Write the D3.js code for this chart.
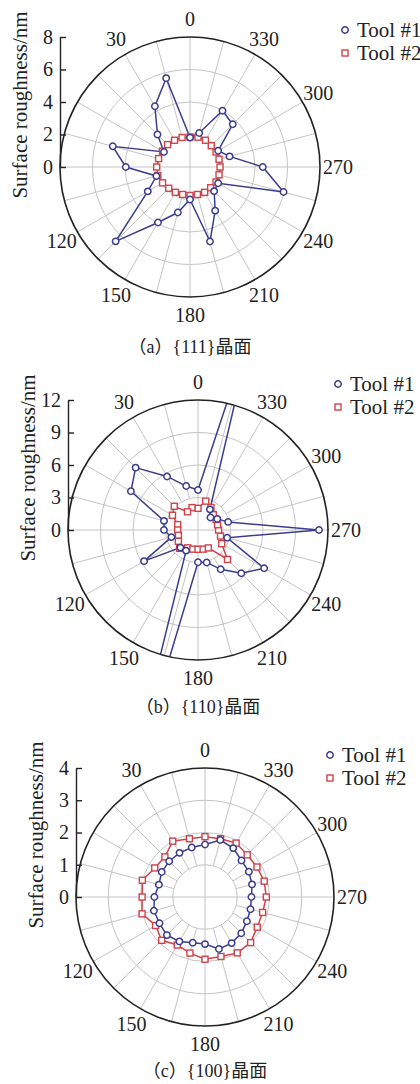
<!DOCTYPE html>
<html>
<head>
<meta charset="utf-8">
<script src="https://cdn.jsdelivr.net/npm/d3@7"></script>
<style>
  body { margin: 0; background: #fff; }
  svg { display: block; }
</style>
</head>
<body>
<svg id="chart" width="420" height="1084"></svg>
<script>
// Sampling angles (degrees, counter-clockwise from the top)
const angleDeg = [0, 15, 30, 45, 60, 75, 90, 105, 120, 135, 150, 165,
                  180, 195, 210, 225, 240, 255, 270, 285, 300, 315, 330, 345];

// Angular labels printed round each dial (60 and 90 sit under the y axis)
const angleTickValues = [0, 30, 120, 150, 180, 210, 240, 270, 300, 330];

// Radial tick values of each panel
const radialTicks111 = [0, 2, 4, 6, 8];
const radialTicks110 = [0, 3, 6, 9, 12];
const radialTicks100 = [0, 1, 2, 3, 4];

// Surface roughness (nm), {111} plane
const tool1_111 = [1.81, 5.66, 4.32, 2.83, 1.85, 4.92, 3.95, 2.14, 3.0, 6.47, 3.94, 2.9,
                   2.0, 4.75, 3.1, 2.1, 2.0, 5.96, 4.48, 2.52, 2.0, 3.72, 4.0, 2.17];
const tool2_111 = [1.85, 1.88, 1.9, 1.95, 1.95, 2.0, 2.05, 2.05, 1.95, 1.85, 1.8, 1.75,
                   1.75, 1.75, 1.8, 1.8, 1.85, 1.85, 1.85, 1.85, 1.85, 1.85, 1.9, 1.9];

// Surface roughness (nm), {110} plane
const tool1_110 = [3.69, 4.2, 5.71, 8.14, 7.15, 3.25, 3.14, 2.54, 5.75, 2.3, 2.2, 30.0,
                   2.98, 3.1, 4.19, 5.65, 7.05, 2.79, 11.17, 2.88, 2.05, 1.63, 2.2, 20.0];
const tool2_110 = [2.0, 2.14, 1.94, 3.1, 2.72, 1.94, 1.88, 1.87, 2.09, 2.4, 1.9, 1.83,
                   1.78, 1.83, 1.91, 3.85, 2.53, 2.15, 1.9, 1.87, 1.93, 2.0, 2.4, 2.76];

// Surface roughness (nm), {100} plane
const tool1_100 = [1.63, 1.59, 1.58, 1.57, 1.55, 1.48, 1.57, 1.64, 1.63, 1.67, 1.59, 1.47,
                   1.46, 1.67, 1.65, 1.59, 1.5, 1.46, 1.44, 1.51, 1.57, 1.6, 1.75, 1.83];
const tool2_100 = [1.87, 1.87, 2.0, 1.76, 1.8, 2.01, 1.95, 2.02, 1.77, 1.9, 1.72, 1.8,
                   1.93, 1.91, 2.0, 2.0, 1.87, 1.85, 1.9, 1.9, 1.86, 1.85, 1.93, 1.87];

const seriesNames = ["Tool #1", "Tool #2"];
const captions = ["（a）{111}晶面", "（b）{110}晶面", "（c）{100}晶面"];
const yTitle = "Surface roughness/nm";

const COLOR1 = "#3a3d8e";
const COLOR2 = "#d0434a";
const FONT = "'Liberation Serif', 'Times New Roman', 'Noto Sans CJK SC', serif";

const panels = [
  { cx: 190, cy: 167, R: 130, ticks: radialTicks111, s1: tool1_111, s2: tool2_111, caption: captions[0], capDy: 180, legX: 345, legY: 30 },
  { cx: 198, cy: 530, R: 130, ticks: radialTicks110, s1: tool1_110, s2: tool2_110, caption: captions[1], capDy: 177, legX: 338, legY: 384 },
  { cx: 205, cy: 897, R: 129, ticks: radialTicks100, s1: tool1_100, s2: tool2_100, caption: captions[2], capDy: 174, legX: 330, legY: 755 }
];

const svg = d3.select("#chart");
const rad = d => d * Math.PI / 180;

function drawCircleMarker(sel, color) {
  sel.append("circle").attr("r", 3.2)
    .attr("fill", "#fff").attr("stroke", color).attr("stroke-width", 1.5);
}
function drawSquareMarker(sel, color) {
  sel.append("rect").attr("x", -3).attr("y", -3).attr("width", 6).attr("height", 6)
    .attr("fill", "#fff").attr("stroke", color).attr("stroke-width", 1.4);
}

panels.forEach((p, i) => {
  const g = svg.append("g").attr("transform", `translate(${p.cx},${p.cy})`);
  const maxV = p.ticks[p.ticks.length - 1];
  const r = d3.scaleLinear().domain([0, maxV]).range([0, p.R]);

  // concentric grid rings
  g.append("g").selectAll("circle")
    .data(p.ticks.slice(1, -1))
    .join("circle")
    .attr("r", d => r(d))
    .attr("fill", "none").attr("stroke", "#c4c4c4").attr("stroke-width", 1);

  // spokes every 15 degrees; the four main axes reach the centre
  const spokes = d3.range(0, 360, 15);
  g.append("g").selectAll("line")
    .data(spokes)
    .join("line")
    .each(function (a) {
      const r0 = a % 90 === 0 ? 0 : r(p.ticks[1]);
      const [x0, y0] = d3.pointRadial(-rad(a), r0);
      const [x1, y1] = d3.pointRadial(-rad(a), p.R);
      d3.select(this).attr("x1", x0).attr("y1", y0).attr("x2", x1).attr("y2", y1);
    })
    .attr("stroke", "#c4c4c4").attr("stroke-width", 1);

  // clip to the dial
  const clipId = `dial-clip-${i}`;
  g.append("clipPath").attr("id", clipId)
    .append("circle").attr("r", p.R);

  const line = d3.lineRadial()
    .angle(d => -rad(d[0]))
    .radius(d => r(d[1]))
    .curve(d3.curveLinearClosed);

  const plot = g.append("g").attr("clip-path", `url(#${clipId})`);
  const data2 = angleDeg.map((a, k) => [a, p.s2[k]]);
  const data1 = angleDeg.map((a, k) => [a, p.s1[k]]);

  plot.append("path").attr("d", line(data2))
    .attr("fill", "none").attr("stroke", COLOR2).attr("stroke-width", 1.5);
  plot.append("path").attr("d", line(data1))
    .attr("fill", "none").attr("stroke", COLOR1).attr("stroke-width", 1.5);

  plot.append("g").selectAll("g")
    .data(data2).join("g")
    .attr("transform", d => `translate(${d3.pointRadial(-rad(d[0]), r(d[1]))})`)
    .each(function () { drawSquareMarker(d3.select(this), COLOR2); });
  plot.append("g").selectAll("g")
    .data(data1).join("g")
    .attr("transform", d => `translate(${d3.pointRadial(-rad(d[0]), r(d[1]))})`)
    .each(function () { drawCircleMarker(d3.select(this), COLOR1); });

  // outer ring
  g.append("circle").attr("r", p.R)
    .attr("fill", "none").attr("stroke", "#222").attr("stroke-width", 1.6);

  // angular labels
  g.append("g").selectAll("text")
    .data(angleTickValues)
    .join("text")
    .attr("x", a => d3.pointRadial(-rad(a), p.R + 18)[0])
    .attr("y", a => d3.pointRadial(-rad(a), p.R + 18)[1])
    .attr("text-anchor", "middle")
    .attr("dominant-baseline", "central")
    .attr("font-family", FONT).attr("font-size", 20).attr("fill", "#222")
    .text(a => a);

  // radial axis on the left edge of the dial
  const yScale = d3.scaleLinear().domain([0, maxV]).range([0, -p.R]);
  const axis = g.append("g").attr("transform", `translate(${-p.R},0)`)
    .call(d3.axisLeft(yScale).tickValues(p.ticks).tickSizeInner(-6).tickSizeOuter(0)
      .tickPadding(7).tickFormat(d3.format("d")));
  axis.select(".domain").attr("stroke", "#222").attr("stroke-width", 1.4);
  axis.selectAll(".tick line").attr("stroke", "#222").attr("stroke-width", 1.4);
  axis.selectAll(".tick text").attr("font-family", FONT).attr("font-size", 20).attr("fill", "#222");

  // axis title
  g.append("text")
    .attr("transform", `translate(${-p.R - 40},${-62}) rotate(-90)`)
    .attr("text-anchor", "middle")
    .attr("dominant-baseline", "central")
    .attr("font-family", FONT).attr("font-size", 21).attr("fill", "#222")
    .text(yTitle);

  // caption
  g.append("text")
    .attr("x", 0).attr("y", p.capDy)
    .attr("text-anchor", "middle").attr("dominant-baseline", "central")
    .attr("font-family", FONT).attr("font-size", 18).attr("fill", "#222")
    .text(p.caption);

  // legend
  const leg = svg.append("g").attr("transform", `translate(${p.legX},${p.legY})`);
  const row1 = leg.append("g");
  drawCircleMarker(row1, COLOR1);
  row1.append("text").attr("x", 12).attr("y", 0).attr("dominant-baseline", "central")
    .attr("font-family", FONT).attr("font-size", 21).attr("fill", "#222").text(seriesNames[0]);
  const row2 = leg.append("g").attr("transform", "translate(0,23)");
  drawSquareMarker(row2, COLOR2);
  row2.append("text").attr("x", 12).attr("y", 0).attr("dominant-baseline", "central")
    .attr("font-family", FONT).attr("font-size", 21).attr("fill", "#222").text(seriesNames[1]);
});
</script>
</body>
</html>
